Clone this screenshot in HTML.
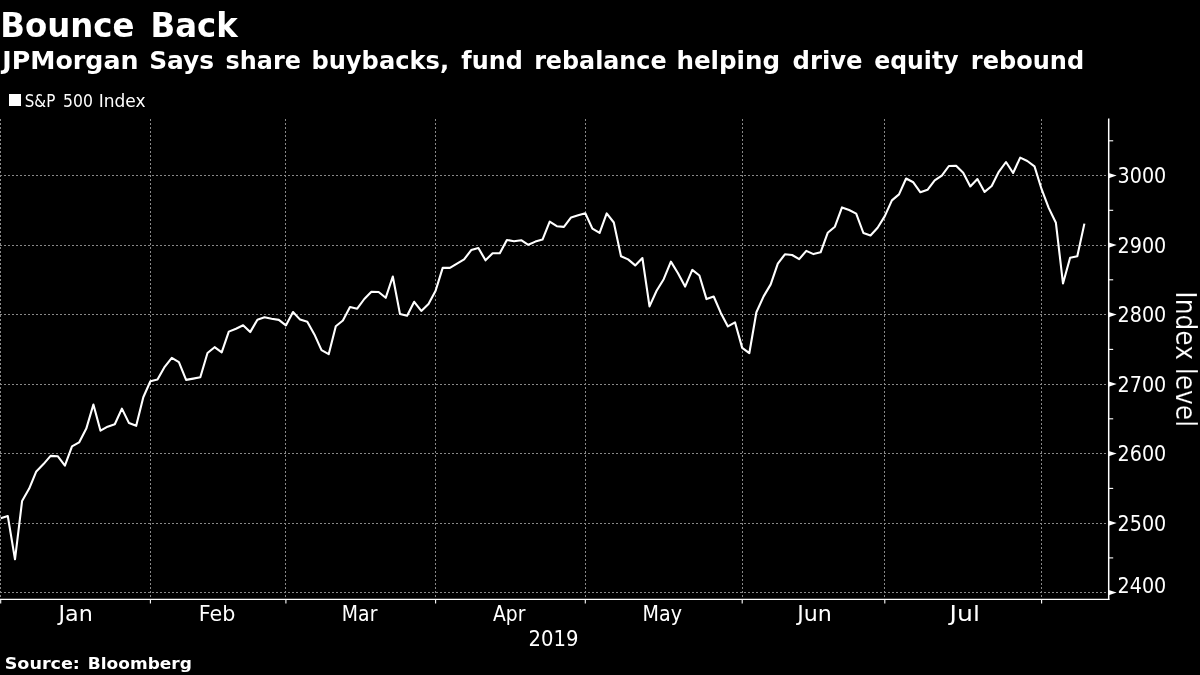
<!DOCTYPE html>
<html lang="en"><head><meta charset="utf-8"><title>Bounce Back</title>
<style>
html,body{margin:0;padding:0;background:#000;}
body{width:1200px;height:675px;overflow:hidden;position:relative;font-family:"DejaVu Sans","Liberation Sans",sans-serif;color:#fff}
</style></head><body>
<svg width="1200" height="675" viewBox="0 0 1200 675" style="position:absolute;left:0;top:0">
<g stroke="#888888" stroke-width="1" stroke-dasharray="2 2" fill="none" shape-rendering="crispEdges">
<line x1="0.5" y1="118.5" x2="0.5" y2="599.1"/>
<line x1="150.5" y1="118.5" x2="150.5" y2="599.1"/>
<line x1="285.5" y1="118.5" x2="285.5" y2="599.1"/>
<line x1="435.5" y1="118.5" x2="435.5" y2="599.1"/>
<line x1="585.5" y1="118.5" x2="585.5" y2="599.1"/>
<line x1="742.5" y1="118.5" x2="742.5" y2="599.1"/>
<line x1="884.5" y1="118.5" x2="884.5" y2="599.1"/>
<line x1="1041.5" y1="118.5" x2="1041.5" y2="599.1"/>
<line x1="0" y1="592.5" x2="1108.7" y2="592.5"/>
<line x1="0" y1="523.5" x2="1108.7" y2="523.5"/>
<line x1="0" y1="453.5" x2="1108.7" y2="453.5"/>
<line x1="0" y1="384.5" x2="1108.7" y2="384.5"/>
<line x1="0" y1="314.5" x2="1108.7" y2="314.5"/>
<line x1="0" y1="245.5" x2="1108.7" y2="245.5"/>
<line x1="0" y1="175.5" x2="1108.7" y2="175.5"/>
</g>
<g stroke="#fff" stroke-width="1.25" fill="none">
<line x1="1108.7" y1="118.5" x2="1108.7" y2="600.05" stroke-width="1.5"/>
<line x1="0" y1="599.45" x2="1109.45" y2="599.45" stroke-width="1.2"/>
<line x1="0.7" y1="599.1" x2="0.7" y2="603.6" stroke-width="1.1"/>
<line x1="150.4" y1="599.1" x2="150.4" y2="603.6" stroke-width="1.1"/>
<line x1="285.9" y1="599.1" x2="285.9" y2="603.6" stroke-width="1.1"/>
<line x1="435.6" y1="599.1" x2="435.6" y2="603.6" stroke-width="1.1"/>
<line x1="585.3" y1="599.1" x2="585.3" y2="603.6" stroke-width="1.1"/>
<line x1="742.2" y1="599.1" x2="742.2" y2="603.6" stroke-width="1.1"/>
<line x1="884.8" y1="599.1" x2="884.8" y2="603.6" stroke-width="1.1"/>
<line x1="1041.6" y1="599.1" x2="1041.6" y2="603.6" stroke-width="1.1"/>
<line x1="1108.7" y1="557.9" x2="1113.2" y2="557.9" stroke-width="1.1"/>
<line x1="1108.7" y1="488.4" x2="1113.2" y2="488.4" stroke-width="1.1"/>
<line x1="1108.7" y1="418.8" x2="1113.2" y2="418.8" stroke-width="1.1"/>
<line x1="1108.7" y1="349.4" x2="1113.2" y2="349.4" stroke-width="1.1"/>
<line x1="1108.7" y1="279.8" x2="1113.2" y2="279.8" stroke-width="1.1"/>
<line x1="1108.7" y1="210.3" x2="1113.2" y2="210.3" stroke-width="1.1"/>
<line x1="1108.7" y1="140.8" x2="1113.2" y2="140.8" stroke-width="1.1"/>
</g>
<g fill="#fff">
<path d="M1108.7,589.9 L1116.7,592.6 L1108.7,595.3 Z"/>
<path d="M1108.7,520.4 L1116.7,523.1 L1108.7,525.8 Z"/>
<path d="M1108.7,450.9 L1116.7,453.6 L1108.7,456.3 Z"/>
<path d="M1108.7,381.4 L1116.7,384.1 L1108.7,386.8 Z"/>
<path d="M1108.7,311.9 L1116.7,314.6 L1108.7,317.3 Z"/>
<path d="M1108.7,242.4 L1116.7,245.1 L1108.7,247.8 Z"/>
<path d="M1108.7,172.9 L1116.7,175.6 L1108.7,178.3 Z"/>
</g>
<polyline points="0.7,518.3 7.8,516.1 15.0,559.3 22.1,500.9 29.2,488.6 36.3,471.4 43.5,464.1 50.6,455.9 57.7,456.2 64.9,465.7 72.0,446.4 79.1,442.4 86.3,428.6 93.4,404.5 100.5,430.7 107.6,426.7 114.8,424.2 121.9,408.6 129.0,423.1 136.2,425.8 143.3,397.3 150.4,381.3 157.5,379.6 164.7,366.8 171.8,357.9 178.9,362.1 186.1,379.9 193.2,378.6 200.3,377.3 207.5,353.0 214.6,347.2 221.7,352.3 228.8,331.6 236.0,328.7 243.1,325.2 250.2,332.1 257.4,319.7 264.5,317.3 271.6,318.8 278.8,319.9 285.9,325.4 293.0,312.0 300.1,319.6 307.3,321.8 314.4,334.4 321.5,350.1 328.7,354.2 335.8,326.2 342.9,320.5 350.0,307.0 357.2,308.7 364.3,299.0 371.4,291.7 378.6,292.0 385.7,297.8 392.8,276.5 400.0,314.1 407.1,315.7 414.2,301.8 421.3,310.9 428.5,303.9 435.6,290.7 442.7,267.9 449.9,267.9 457.0,263.6 464.1,259.4 471.2,250.1 478.4,248.0 485.5,260.3 492.6,253.3 499.8,253.2 506.9,240.0 514.0,241.2 521.2,240.2 528.3,244.8 535.4,241.6 542.5,239.6 549.7,221.7 556.8,226.2 563.9,226.9 571.1,217.4 578.2,215.2 585.3,213.2 592.4,228.6 599.6,232.9 606.7,213.4 613.8,222.5 621.0,256.2 628.1,259.4 635.2,265.4 642.4,258.0 649.5,306.4 656.6,290.7 663.7,279.2 670.9,261.6 678.0,273.2 685.1,286.6 692.3,269.9 699.4,275.5 706.5,299.1 713.7,296.5 720.8,312.9 727.9,326.4 735.0,322.3 742.2,347.9 749.3,353.2 756.4,312.3 763.6,296.4 770.7,284.4 777.8,263.6 784.9,254.3 792.1,255.0 799.2,259.1 806.3,250.9 813.5,254.1 820.6,252.3 827.7,232.8 834.9,226.7 842.0,207.4 849.1,210.0 856.2,213.6 863.4,233.0 870.5,235.5 877.6,227.8 884.8,216.1 891.9,200.4 899.0,194.4 906.1,178.5 913.3,182.3 920.4,192.3 927.5,189.8 934.7,180.4 941.8,175.7 948.9,166.0 956.1,165.7 963.2,172.8 970.3,186.4 977.4,179.0 984.6,191.9 991.7,186.0 998.8,171.8 1006.0,162.0 1013.1,173.0 1020.2,157.6 1027.3,161.0 1034.5,166.4 1041.6,189.2 1048.7,207.9 1055.9,222.8 1063.0,283.5 1070.1,257.8 1077.3,256.2 1084.4,223.6" fill="none" stroke="#fff" stroke-width="2.1" stroke-linejoin="round" stroke-linecap="butt"/>
<g fill="#fff" font-family="'DejaVu Sans', 'Liberation Sans', sans-serif">
<text y="36.5" font-size="33.4" font-weight="bold"><tspan x="0.37" textLength="134.15" lengthAdjust="spacingAndGlyphs">Bounce</tspan> <tspan x="150.57" textLength="87.20" lengthAdjust="spacingAndGlyphs">Back</tspan></text>
<text y="68.6" font-size="24.7" font-weight="bold"><tspan x="2.28" textLength="136.22" lengthAdjust="spacingAndGlyphs">JPMorgan</tspan> <tspan x="149.15" textLength="64.97" lengthAdjust="spacingAndGlyphs">Says</tspan> <tspan x="225.58" textLength="75.32" lengthAdjust="spacingAndGlyphs">share</tspan> <tspan x="311.41" textLength="137.67" lengthAdjust="spacingAndGlyphs">buybacks,</tspan> <tspan x="461.33" textLength="61.47" lengthAdjust="spacingAndGlyphs">fund</tspan> <tspan x="534.14" textLength="132.46" lengthAdjust="spacingAndGlyphs">rebalance</tspan> <tspan x="676.38" textLength="103.77" lengthAdjust="spacingAndGlyphs">helping</tspan> <tspan x="792.54" textLength="70.07" lengthAdjust="spacingAndGlyphs">drive</tspan> <tspan x="874.26" textLength="84.30" lengthAdjust="spacingAndGlyphs">equity</tspan> <tspan x="970.82" textLength="113.28" lengthAdjust="spacingAndGlyphs">rebound</tspan></text>
<text y="107" font-size="17"><tspan x="24.75" textLength="30.52" lengthAdjust="spacingAndGlyphs">S&amp;P</tspan> <tspan x="63.02" textLength="29.89" lengthAdjust="spacingAndGlyphs">500</tspan> <tspan x="98.70" textLength="46.90" lengthAdjust="spacingAndGlyphs">Index</tspan></text>
<text y="669.4" font-size="16.2" font-weight="bold"><tspan x="4.70" textLength="75.21" lengthAdjust="spacingAndGlyphs">Source:</tspan> <tspan x="87.87" textLength="104.00" lengthAdjust="spacingAndGlyphs">Bloomberg</tspan></text>
<text y="593.3" font-size="21.1" font-stretch="condensed"><tspan x="1117.57" textLength="48.74" lengthAdjust="spacingAndGlyphs">2400</tspan></text>
<text y="530.8" font-size="21.1" font-stretch="condensed"><tspan x="1117.57" textLength="48.74" lengthAdjust="spacingAndGlyphs">2500</tspan></text>
<text y="461.3" font-size="21.1" font-stretch="condensed"><tspan x="1117.57" textLength="48.74" lengthAdjust="spacingAndGlyphs">2600</tspan></text>
<text y="391.8" font-size="21.1" font-stretch="condensed"><tspan x="1117.57" textLength="48.74" lengthAdjust="spacingAndGlyphs">2700</tspan></text>
<text y="322.3" font-size="21.1" font-stretch="condensed"><tspan x="1117.57" textLength="48.74" lengthAdjust="spacingAndGlyphs">2800</tspan></text>
<text y="252.8" font-size="21.1" font-stretch="condensed"><tspan x="1117.57" textLength="48.74" lengthAdjust="spacingAndGlyphs">2900</tspan></text>
<text y="183.3" font-size="21.1" font-stretch="condensed"><tspan x="1117.57" textLength="48.74" lengthAdjust="spacingAndGlyphs">3000</tspan></text>
<text y="620.8" font-size="21" font-stretch="condensed"><tspan x="58.46" textLength="34.28" lengthAdjust="spacingAndGlyphs">Jan</tspan> <tspan x="198.80" textLength="36.52" lengthAdjust="spacingAndGlyphs">Feb</tspan> <tspan x="341.86" textLength="35.52" lengthAdjust="spacingAndGlyphs">Mar</tspan> <tspan x="493.00" textLength="32.39" lengthAdjust="spacingAndGlyphs">Apr</tspan> <tspan x="642.64" textLength="39.41" lengthAdjust="spacingAndGlyphs">May</tspan> <tspan x="797.15" textLength="34.58" lengthAdjust="spacingAndGlyphs">Jun</tspan> <tspan x="949.61" textLength="30.27" lengthAdjust="spacingAndGlyphs">Jul</tspan></text>
<text y="646" font-size="21" font-stretch="condensed"><tspan x="528.64" textLength="49.90" lengthAdjust="spacingAndGlyphs">2019</tspan></text>
<g transform="translate(1175.5,0) rotate(90)" stroke="#000" stroke-width="0.2"><text x="291.33" y="0" font-size="28" font-stretch="condensed" textLength="135.83" lengthAdjust="spacingAndGlyphs">Index level</text></g>
</g>
<rect x="9" y="94" width="12" height="12" fill="#fff"/>
</svg>
</body></html>
